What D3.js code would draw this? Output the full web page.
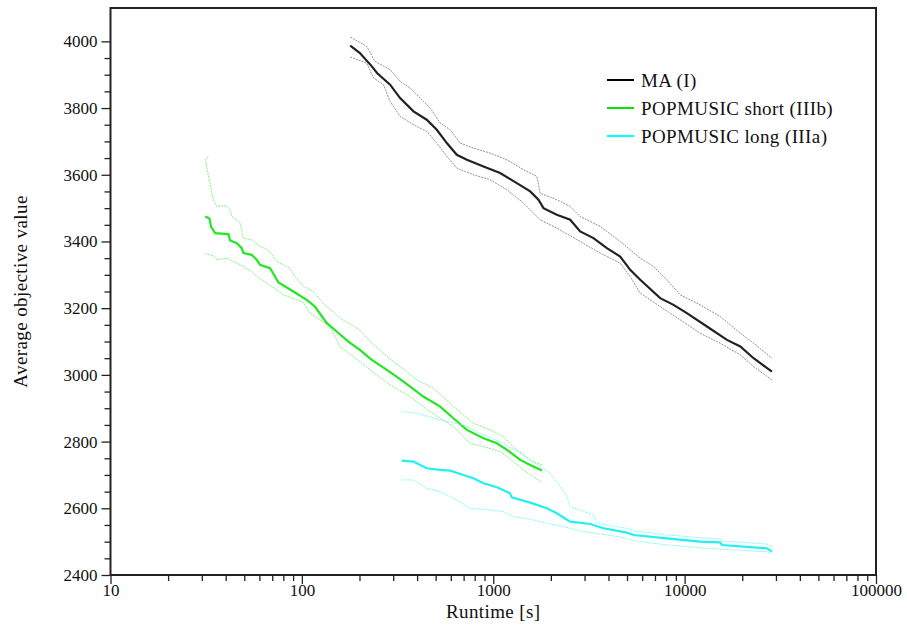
<!DOCTYPE html>
<html>
<head>
<meta charset="utf-8">
<script src="https://cdn.jsdelivr.net/npm/d3@7/dist/d3.min.js"></script>
<style>
  body { margin: 0; background: #fff; }
  text { font-family: "Liberation Serif", "Times New Roman", serif; font-size: 19px; letter-spacing: 0.4px; fill: #111; }
</style>
</head>
<body>
<div id="chart"></div>
<script>
// values: [runtime s, objective]
const maMean = [[179,3987],[201,3965],[232,3925],[247,3905],[289,3870],[326,3830],[383,3790],[449,3765],[507,3735],[572,3695],[645,3660],[728,3645],[889,3625],[1086,3605],[1328,3575],[1560,3550],[1723,3525],[1830,3500],[2148,3480],[2523,3465],[2845,3430],[3339,3410],[3924,3380],[4605,3355],[5195,3315],[5862,3285],[7450,3230],[8750,3210],[10270,3185],[13080,3145],[16640,3105],[19540,3085],[22930,3050],[28580,3010]];
const maUpper = [[179,4013],[218,3985],[241,3940],[289,3915],[326,3880],[368,3860],[415,3830],[468,3800],[528,3755],[596,3735],[671,3695],[788,3680],[964,3665],[1179,3645],[1440,3615],[1690,3595],[1758,3545],[2148,3525],[2523,3505],[2845,3475],[3624,3445],[4605,3400],[5862,3350],[6880,3325],[8070,3285],[9480,3240],[12050,3210],[15340,3175],[19540,3125],[22930,3095],[28580,3050]];
const maLower = [[179,3953],[218,3935],[237,3890],[267,3870],[289,3820],[326,3775],[383,3750],[449,3730],[507,3695],[572,3655],[645,3620],[788,3600],[964,3585],[1179,3555],[1440,3515],[1758,3465],[2148,3440],[2845,3400],[3624,3365],[4605,3335],[5195,3295],[5862,3245],[7450,3205],[9480,3165],[12050,3125],[15340,3095],[19540,3060],[22930,3025],[28580,2985]];

const shortMean = [[31.3,3475],[32.9,3469],[33.5,3445],[35.2,3425],[41.3,3422],[42.2,3403],[45.7,3395],[48.5,3380],[49.5,3365],[54.7,3360],[58.1,3345],[60.4,3330],[68.2,3320],[72.4,3295],[75.4,3277],[90.3,3250],[106,3225],[117,3205],[135,3155],[152,3130],[175,3100],[201,3075],[232,3045],[278,3015],[330,2985],[368,2965],[431,2935],[528,2905],[619,2870],[728,2835],[889,2810],[1045,2795],[1179,2775],[1383,2745],[1560,2730],[1796,2713]];
const shortUpper = [[32.4,3655],[31.3,3645],[33.5,3558],[34.4,3527],[35.9,3505],[40.5,3507],[42.2,3495],[43.1,3475],[47.6,3455],[49.5,3410],[54.7,3405],[60.4,3385],[66.8,3375],[73.9,3340],[86.7,3320],[92,3295],[102,3265],[115,3250],[129,3215],[158,3170],[201,3135],[232,3095],[278,3055],[326,3025],[399,2985],[487,2960],[619,2905],[698,2880],[788,2855],[964,2835],[1131,2815],[1328,2775],[1560,2745],[1796,2730]];
const shortLower = [[31.3,3363],[34.4,3357],[35.9,3345],[40.5,3350],[43.9,3340],[49.5,3325],[54.7,3310],[58.1,3295],[65.6,3275],[73.9,3255],[80,3240],[102,3217],[110,3185],[140,3145],[158,3085],[186,3055],[227,3015],[289,2970],[368,2935],[468,2890],[619,2845],[757,2795],[889,2785],[1086,2770],[1277,2740],[1440,2715],[1622,2695],[1796,2677]];

const longMean = [[332,2743],[383,2740],[449,2720],[528,2715],[596,2713],[698,2700],[788,2690],[889,2675],[1045,2663],[1224,2645],[1250,2633],[1560,2617],[1906,2600],[2148,2585],[2523,2560],[3214,2553],[3770,2540],[4990,2527],[5410,2520],[8070,2510],[12050,2500],[15340,2498],[15660,2490],[26900,2480],[28580,2470]];
const longUpper = [[332,2890],[399,2885],[528,2865],[698,2850],[853,2825],[1131,2795],[1383,2765],[1758,2725],[1982,2705],[2240,2665],[2429,2635],[2523,2605],[3339,2580],[3484,2555],[4990,2540],[5410,2533],[8070,2520],[12050,2512],[15340,2508],[15660,2502],[26900,2493],[28580,2485]];
const longLower = [[332,2685],[383,2685],[449,2660],[528,2650],[645,2625],[757,2600],[964,2595],[1131,2590],[1277,2575],[1560,2567],[1906,2555],[2329,2545],[2962,2530],[3770,2522],[4990,2510],[5410,2503],[8070,2490],[12050,2482],[18030,2475],[26900,2470],[28580,2463]];

const seriesNames = ["MA (I)", "POPMUSIC short (IIIb)", "POPMUSIC long (IIIa)"];
const seriesColors = ["#222222", "#22e622", "#22f0f0"];
const boundColors = ["#777777", "#66ee66", "#66f5f5"];
const xTickLabels = [10, 100, 1000, 10000, 100000];

const width = 907, height = 629;
const plotLeft = 110.5, plotRight = 876, plotTop = 8, plotBottom = 575;

const svg = d3.select("#chart").append("svg")
  .attr("width", width)
  .attr("height", height);

const x = d3.scaleLog().domain([10, 100000]).range([plotLeft, plotRight]);
const y = d3.scaleLinear().domain([2400, 4100]).range([plotBottom, plotTop]);

// x ticks: 1..9 per decade
const xTicks = [];
for (let e = 1; e < 5; e++) for (let m = 1; m < 10; m++) xTicks.push(m * Math.pow(10, e));
xTicks.push(100000);

const xAxis = d3.axisBottom(x)
  .tickValues(xTicks)
  .tickSizeOuter(0)
  .tickFormat(d => xTickLabels.includes(d) ? d : "");
const xg = svg.append("g").attr("transform", "translate(0," + plotBottom + ")").call(xAxis);
xg.select(".domain").remove();
xg.selectAll(".tick line").attr("stroke", "#222").attr("stroke-width", 1.3)
  .attr("y2", d => xTickLabels.includes(d) ? 9 : 6);
xg.selectAll(".tick text").attr("y", 9).attr("dy", "0.71em")
  .style("font-size", "17px").style("letter-spacing", "0px");

const yTicks = d3.range(2400, 4001, 50);
const yAxis = d3.axisLeft(y)
  .tickValues(yTicks)
  .tickSizeOuter(0)
  .tickFormat(d => d % 200 === 0 ? d : "");
const yg = svg.append("g").attr("transform", "translate(" + plotLeft + ",0)").call(yAxis);
yg.select(".domain").remove();
yg.selectAll(".tick line").attr("stroke", "#222").attr("stroke-width", 1.3)
  .attr("x2", d => d % 200 === 0 ? -9 : -6);
yg.selectAll(".tick text").attr("x", -13)
  .style("font-size", "17px").style("letter-spacing", "0px");

// frame
svg.append("rect")
  .attr("x", plotLeft).attr("y", plotTop)
  .attr("width", plotRight - plotLeft).attr("height", plotBottom - plotTop)
  .attr("fill", "none").attr("stroke", "#222").attr("stroke-width", 2);

const line = d3.line().x(d => x(d[0])).y(d => y(d[1]));

const groups = [
  [maUpper, maMean, maLower],
  [shortUpper, shortMean, shortLower],
  [longUpper, longMean, longLower]
];

groups.forEach(function(g, i) {
  [g[0], g[2]].forEach(function(b) {
    svg.append("path")
      .datum(b)
      .attr("d", line)
      .attr("fill", "none")
      .attr("stroke", boundColors[i])
      .attr("stroke-width", 1)
      .attr("stroke-dasharray", "2,1")
      .attr("opacity", 0.8);
  });
  svg.append("path")
    .datum(g[1])
    .attr("d", line)
    .attr("fill", "none")
    .attr("stroke", seriesColors[i])
    .attr("stroke-width", 2.2);
});

// legend
const legend = svg.append("g");
seriesNames.forEach(function(name, i) {
  const ly = 80 + i * 28;
  legend.append("line")
    .attr("x1", 607).attr("x2", 634)
    .attr("y1", ly).attr("y2", ly)
    .attr("stroke", i === 0 ? "#000" : (i === 1 ? "#00e600" : "#00ffff"))
    .attr("stroke-width", 2);
  legend.append("text")
    .attr("x", 641).attr("y", ly)
    .attr("dy", "0.35em")
    .text(name);
});

// axis titles
svg.append("text")
  .attr("x", (plotLeft + plotRight) / 2).attr("y", 618)
  .attr("text-anchor", "middle")
  .text("Runtime [s]");
svg.append("text")
  .attr("transform", "translate(27," + ((plotTop + plotBottom) / 2) + ") rotate(-90)")
  .attr("text-anchor", "middle")
  .text("Average objective value");
</script>
</body>
</html>
